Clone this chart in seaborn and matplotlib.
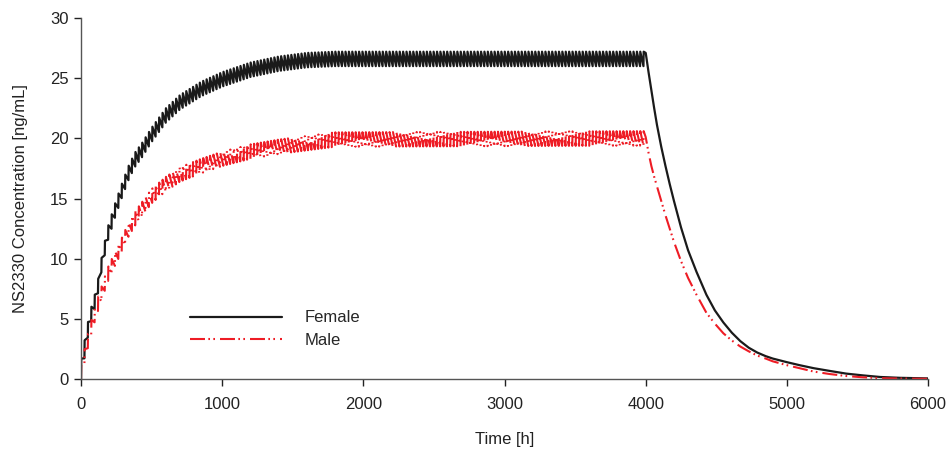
import numpy as np
import pandas as pd
import matplotlib
matplotlib.use("Agg")
import matplotlib.pyplot as plt
import seaborn as sns

# Dosing phase: concentration just before (trough) and just after (peak) a dose
rise_time = [0, 60, 110, 150, 190, 240, 290, 335, 380, 430, 500, 600, 700,
             850, 1000, 1200, 1400, 1600, 1800, 4000]
female_peak = [1.7, 5.5, 7.6, 10.5, 12.7, 14.6, 16.3, 17.7, 18.8, 19.6, 20.9,
               22.5, 23.6, 24.7, 25.5, 26.3, 26.8, 27.1, 27.2, 27.2]
female_trough = [0.0, 4.3, 6.4, 9.3, 11.5, 13.4, 15.1, 16.5, 17.6, 18.4, 19.7,
                 21.3, 22.4, 23.5, 24.3, 25.1, 25.6, 25.9, 26.0, 26.0]
male_peak = [1.2, 4.4, 6.5, 7.9, 9.3, 10.6, 11.8, 13.0, 13.9, 14.7, 15.8,
             16.8, 17.6, 18.3, 18.9, 19.5, 19.9, 20.2, 20.5, 20.6]
male_trough = [0.0, 3.2, 5.3, 6.7, 8.1, 9.4, 10.6, 11.8, 12.7, 13.5, 14.6,
               15.6, 16.4, 17.1, 17.7, 18.3, 18.7, 19.0, 19.3, 19.4]

dose_interval = 24   # h
dosing_end = 4000    # h

# Washout phase after the last dose
wash_time = [4000, 4020, 4040, 4060, 4080, 4110, 4140, 4170, 4200, 4250, 4300,
             4360, 4430, 4490, 4550, 4610, 4670, 4730, 4790, 4850, 4900, 5000,
             5090, 5190, 5300, 5420, 5540, 5660, 5800, 6000]
female_wash = [27.1, 25.5, 24.0, 22.5, 21.1, 19.3, 17.7, 16.2, 14.8, 12.6, 10.7,
               8.9, 7.0, 5.7, 4.7, 3.85, 3.15, 2.6, 2.2, 1.9, 1.7, 1.4,
               1.15, 0.9, 0.68, 0.45, 0.3, 0.17, 0.1, 0.05]
male_wash = [20.1, 18.8, 17.7, 16.8, 16.0, 14.8, 13.6, 12.5, 11.4, 9.8, 8.4,
             7.0, 5.5, 4.6, 3.8, 3.2, 2.7, 2.3, 1.95, 1.7, 1.47, 1.15,
             0.9, 0.62, 0.42, 0.25, 0.14, 0.07, 0.04, 0.02]

x_ticks = [0, 1000, 2000, 3000, 4000, 5000, 6000]
y_ticks = [0, 5, 10, 15, 20, 25, 30]


def profile(peak, trough, wash):
    doses = np.arange(0, dosing_end, dose_interval)
    lo = np.interp(doses, rise_time, trough)
    hi = np.interp(doses, rise_time, peak)
    t = np.column_stack([doses, doses + 1.5]).ravel()
    c = np.column_stack([lo, hi]).ravel()
    return (pd.DataFrame({"Time": np.concatenate([t, wash_time]),
                          "Conc": np.concatenate([c, wash])}))


sns.set_theme(style="ticks")
plt.rcParams["font.family"] = ["Liberation Sans", "DejaVu Sans"]

fig = plt.figure(figsize=(9.5, 4.51), dpi=100)
ax = fig.add_axes([0.0853, 0.1596, 0.8916, 0.8005])

fem = profile(female_peak, female_trough, female_wash)
mal = profile(male_peak, male_trough, male_wash)

sns.lineplot(data=fem, x="Time", y="Conc", ax=ax, estimator=None, sort=False,
             color="#1a1a1a", linewidth=1.6, label="Female")
sns.lineplot(data=mal, x="Time", y="Conc", ax=ax, estimator=None, sort=False,
             color="#ee1c25", linewidth=1.5,
             linestyle=(0, (7.2, 1.6, 0.8, 1.6, 0.8, 2.4)), label="Male")

ax.set_xlim(0, 6000)
ax.set_ylim(0, 30)
ax.set_xticks(x_ticks)
ax.set_yticks(y_ticks)
ax.set_xlabel("Time [h]", fontsize=12, color="#222222", labelpad=14)
ax.set_ylabel("NS2330 Concentration [ng/mL]", fontsize=12, color="#222222",
              labelpad=16)
ax.tick_params(axis="both", labelsize=12, colors="#222222", length=5,
               width=1, direction="out")
ax.tick_params(axis="x", pad=8)
ax.tick_params(axis="y", pad=4)
for s in ("left", "bottom"):
    ax.spines[s].set_color("#555555")
    ax.spines[s].set_linewidth(1.0)
sns.despine(ax=ax)

ax.legend(loc="upper left", bbox_to_anchor=(0.1287, 0.19), frameon=False,
          fontsize=12, handlelength=5.5, handletextpad=1.4, labelspacing=0.45,
          borderpad=0, borderaxespad=0)

fig.savefig("out.png", dpi=100)
